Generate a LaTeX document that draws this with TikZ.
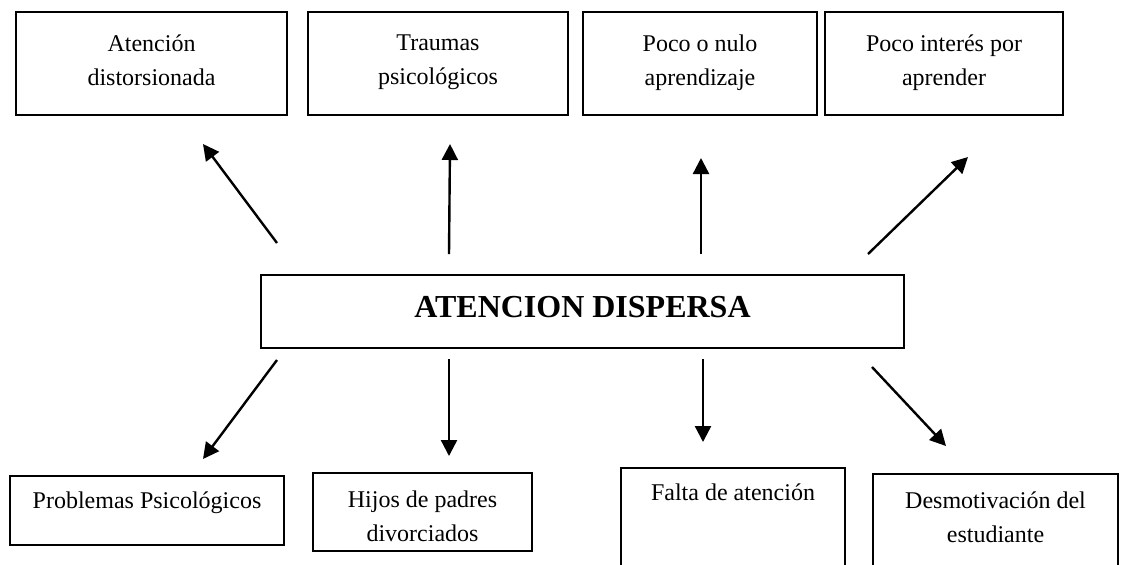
\documentclass[tikz,border=0pt]{standalone}
\usepackage{fontspec}
\setmainfont{Liberation Serif}
\usetikzlibrary{arrows.meta, fit}

\begin{document}
\begin{tikzpicture}[x=0.5pt, y=-0.5pt,
  caja/.style={draw, line width=1pt, inner sep=0pt},
  texto/.style={anchor=north, yshift=-11.5pt, align=center, inner sep=0pt, font=\fontsize{12}{17}\selectfont},
  flecha/.style={line width=1.2pt, -{Triangle[length=8pt, width=8pt]}}]
\useasboundingbox (0,0) rectangle (1123,564);
\clip (0,0) rectangle (1123,564);
\node[caja, fit={(16,12) (287,115)}, label={[texto]north:{Atención\\distorsionada}}] (atdis) {};
\node[caja, fit={(308,12) (568,115)}, label={[texto]north:{Traumas\\psicológicos}}] (traum) {};
\node[caja, fit={(583,12) (817,115)}, label={[texto]north:{Poco o nulo\\aprendizaje}}] (apren) {};
\node[caja, fit={(825,12) (1063,115)}, label={[texto]north:{Poco interés por\\aprender}}] (inter) {};
\node[caja, fit={(261,275) (904,348)}, label={[font=\bfseries\fontsize{16}{19}\selectfont, yshift=2pt]center:ATENCION DISPERSA}] (central) {};
\node[caja, fit={(10,476) (284,545)}, label={[texto, yshift=3.5pt]north:{Problemas Psicológicos}}] (probl) {};
\node[caja, fit={(313,473) (532,551)}, label={[texto, yshift=2.5pt]north:{Hijos de padres\\divorciados}}] (hijos) {};
\node[caja, fit={(621,468) (845,590)}, label={[texto, yshift=3.5pt]north:{Falta de atención}}] (falta) {};
\node[caja, fit={(873,474) (1118,590)}, label={[texto, yshift=2.5pt]north:{Desmotivación del\\estudiante}}] (desmo) {};
\coordinate (s1) at (277,243); \coordinate (e1) at (203,144);
\coordinate (s2) at (449,254); \coordinate (e2) at (450,144);
\coordinate (s3) at (701,254); \coordinate (e3) at (701,158);
\coordinate (s4) at (868,254); \coordinate (e4) at (968,157);
\coordinate (s5) at (277,360); \coordinate (e5) at (203,459);
\coordinate (s6) at (449,359); \coordinate (e6) at (449,456);
\coordinate (s7) at (703,359); \coordinate (e7) at (703,442);
\coordinate (s8) at (872,367); \coordinate (e8) at (946,446);
\draw[flecha] (s1) -- (e1);
\draw[flecha] (s2) -- (e2);
\draw[flecha] (s3) -- (e3);
\draw[flecha] (s4) -- (e4);
\draw[flecha] (s5) -- (e5);
\draw[flecha] (s6) -- (e6);
\draw[flecha] (s7) -- (e7);
\draw[flecha] (s8) -- (e8);
\end{tikzpicture}
\end{document}
